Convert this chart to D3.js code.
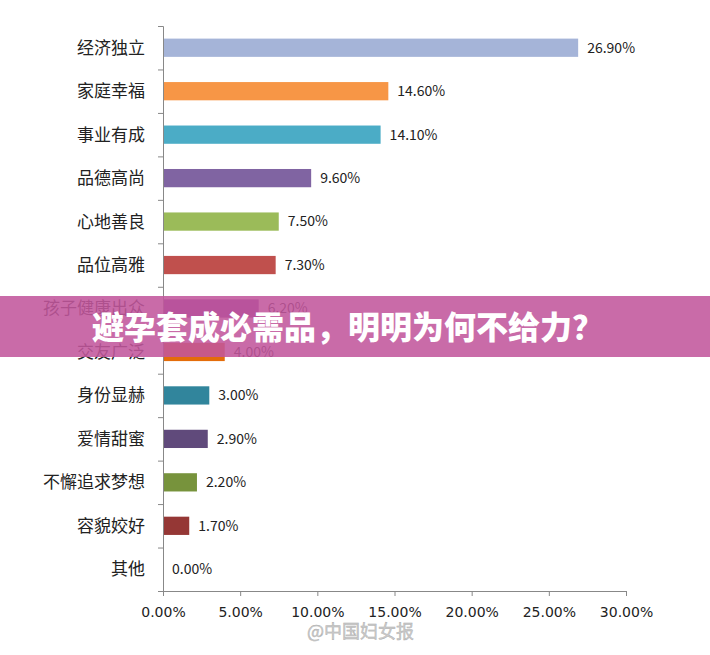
<!DOCTYPE html>
<html><head><meta charset="utf-8">
<script src="https://cdn.jsdelivr.net/npm/d3@7"></script>
<style>body{margin:0;background:#fff;font-family:"Noto Sans CJK SC","DejaVu Sans",sans-serif;}</style>
</head><body><div id="chart"></div>
<script>
const categories = ["经济独立","家庭幸福","事业有成","品德高尚","心地善良","品位高雅","孩子健康出众","交友广泛","身份显赫","爱情甜蜜","不懈追求梦想","容貌姣好","其他"];
const values = [26.9,14.6,14.1,9.6,7.5,7.3,6.2,4.0,3.0,2.9,2.2,1.7,0.0];
const colors = ["#a5b4d8","#f79646","#4bacc6","#8064a2","#9bbb59","#c0504d","#7f3a9a","#e46c0a","#31859c","#604a7b","#77933c","#953735","#999"];
const ticks = [0,5,10,15,20,25,30];
const title = "避孕套成必需品，明明为何不给力？";

const W = 710, H = 655;
const svg = d3.select("#chart").append("svg").attr("width", W).attr("height", H);

const x = d3.scaleLinear().domain([0, 30]).range([163, 626]);
const y = d3.scaleBand().domain(categories).range([26, 591]).paddingInner(0.58).paddingOuter(0.29);

// bars
svg.selectAll("rect.bar").data(values).enter().append("rect")
    .attr("x", x(0))
    .attr("y", (d, i) => y(categories[i]))
    .attr("width", d => x(d) - x(0))
    .attr("height", y.bandwidth())
    .attr("fill", (d, i) => colors[i]);

// value labels
svg.selectAll("text.val").data(values).enter().append("text")
    .attr("x", d => x(d) + 9)
    .attr("y", (d, i) => y(categories[i]) + y.bandwidth() / 2)
    .attr("dy", "0.35em")
    .attr("font-size", 14).attr("fill", "#222")
    .text(d => d.toFixed(2) + "%");

// y axis
const yAxis = svg.append("g").attr("transform", "translate(" + x(0) + ",0)")
    .call(d3.axisLeft(d3.scaleLinear().domain([0, 13]).range([26, 591])).ticks(13).tickSize(5).tickFormat(""));
yAxis.selectAll("line,path").attr("stroke", "#888");
svg.selectAll("text.cat").data(categories).enter().append("text")
    .attr("x", x(0) - 18)
    .attr("y", d => y(d) + y.bandwidth() / 2)
    .attr("dy", "0.35em").attr("text-anchor", "end")
    .attr("font-size", 17).attr("fill", "#222")
    .text(d => d);

// x axis
const xAxis = svg.append("g").attr("transform", "translate(0,591)")
    .call(d3.axisBottom(x).tickValues(ticks).tickSize(5).tickSizeOuter(0).tickFormat(d => d.toFixed(2) + "%"));
xAxis.selectAll("line,path").attr("stroke", "#888");
xAxis.selectAll("text").attr("font-size", 14).attr("fill", "#222").attr("dy", "1.3em")
    .attr("font-family", "DejaVu Sans, sans-serif");

// banner
svg.append("rect").attr("x", 0).attr("y", 296).attr("width", W).attr("height", 61)
    .attr("fill", "#c2569c").attr("opacity", 0.88);
svg.append("text").attr("x", 92).attr("y", 328).attr("dy", "0.35em")
    .attr("font-size", 32).attr("font-weight", 900).attr("fill", "#fff")
    .text(title);

// watermark
svg.append("text").attr("x", 307).attr("y", 638)
    .attr("font-size", 18).attr("fill", "#ccc").attr("stroke", "#aaa").attr("stroke-width", 0.4)
    .text("@中国妇女报");
</script></body></html>
